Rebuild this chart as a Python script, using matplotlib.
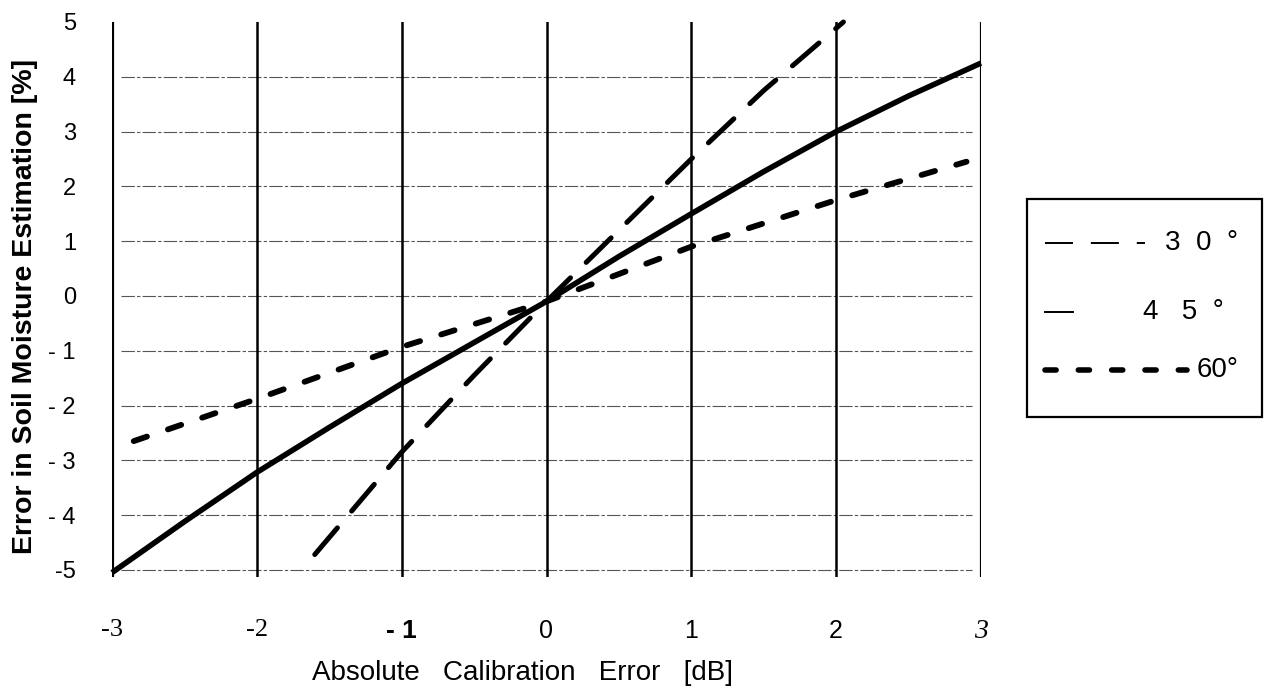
import matplotlib
matplotlib.use('Agg')
import matplotlib.pyplot as plt
from matplotlib.lines import Line2D
from matplotlib.patches import Rectangle

plt.rcParams['font.family'] = ['Liberation Sans', 'DejaVu Sans']

# Calibration error [dB] vs. soil moisture error [%], per incidence angle
x_30 = [-1.6, -1.0, -0.5, 0.0, 0.5, 1.0, 1.5, 2.05]
y_30 = [-4.72, -2.85, -1.45, -0.1, 1.2, 2.5, 3.75, 5.0]

x_45 = [-3.0, -2.5, -2.0, -1.5, -1.0, -0.5, 0.0, 0.5, 1.0, 1.5, 2.0, 2.5, 3.0]
y_45 = [-5.05, -4.12, -3.22, -2.4, -1.6, -0.85, -0.1, 0.72, 1.5, 2.27, 3.0, 3.65, 4.25]

x_60 = [-2.85, -2.0, -1.0, 0.0, 1.0, 2.0, 2.9]
y_60 = [-2.65, -1.88, -0.93, -0.1, 0.9, 1.75, 2.45]

x_ticks = [-3, -2, -1, 0, 1, 2, 3]
x_ticklabels = ['-3', '-2', '- 1', '0', '1', '2', '3']
y_ticks = [5, 4, 3, 2, 1, 0, -1, -2, -3, -4, -5]
y_ticklabels = ['5', '4', '3', '2', '1', '0', '- 1', '- 2', '- 3', '- 4', '-5']
labels = ['3  0  °', '4   5  °', '60°']

W, H = 1265, 693
fig = plt.figure(figsize=(W / 100, H / 100), dpi=100)
ax = fig.add_axes([112 / W, 1 - 577 / H, (981 - 112) / W, (577 - 22) / H])

ax.set_xlim(-3, 3)
ax.set_ylim(-5.13, 5.0)
for s in ax.spines.values():
    s.set_visible(False)

# horizontal broken grey grid lines
for yv in y_ticks[1:]:
    ax.axhline(yv, xmin=0.01, xmax=0.99, color='#555555', lw=0.8,
               ls=(0, (12, 2, 3, 2)), zorder=1)

# heavy vertical lines at every integer
for xv in x_ticks:
    lw = 2.3 if xv in (-3, 3) else 1.8
    ax.axvline(xv, color='black', lw=lw, zorder=2)

l30, = ax.plot(x_30, y_30, color='black', lw=3.6, ls=(0, (7.0, 4.4)),
               dash_capstyle='round', zorder=3, clip_on=False)
l45, = ax.plot(x_45, y_45, color='black', lw=4.0, solid_capstyle='butt',
               zorder=3, clip_on=False)
l60, = ax.plot(x_60, y_60, color='black', lw=4.2, ls=(0, (2.4, 3.8)),
               dash_capstyle='round', zorder=3, clip_on=False)

ax.set_xticks(x_ticks)
ax.set_xticklabels(x_ticklabels, family='Liberation Serif', fontsize=19)
xt = ax.get_xticklabels()
xt[2].set_family('Liberation Sans')
xt[2].set_weight('bold')
for t in xt[3:6]:
    t.set_family('Liberation Sans')
    t.set_fontsize(18)
xt[6].set_style('italic')
xt[6].set_fontsize(20)
ax.set_yticks(y_ticks)
ax.set_yticklabels(y_ticklabels, fontsize=17)
ax.tick_params(axis='x', length=0, pad=30)
ax.tick_params(axis='y', length=0, pad=26)

fig.text(523 / W, 1 - 673 / H, 'Absolute   Calibration   Error   [dB]',
         fontsize=20, ha='center', va='center')
fig.text(25 / W, 1 - 306 / H, 'Error in Soil Moisture Estimation [%]',
         fontsize=20.5, fontweight='bold', rotation=90, ha='center', va='center')

# legend, drawn by hand like the scanned original
fig.patches.append(Rectangle((1027 / W, 1 - 417 / H), (1262 - 1027) / W, (417 - 199) / H,
                             transform=fig.transFigure, fill=False,
                             edgecolor='black', lw=1.6))
rows_y = [243, 312, 370]
handle_ends = [1145, 1073, 1187]
handle_styles = [dict(lw=1.4, ls=(0, (14.4, 9.2))),
                 dict(lw=1.4, ls='-'),
                 dict(lw=4.0, ls=(0, (2.0, 4.0)), dash_capstyle='round')]
text_x = [1165, 1143, 1197]
for ry, he, st, tx, lab in zip(rows_y, handle_ends, handle_styles, text_x, labels):
    fy = 1 - ry / H
    fig.lines.append(Line2D([1045 / W, he / W], [fy, fy], transform=fig.transFigure,
                            color='black', **st))
    fig.text(tx / W, fy, lab, fontsize=20, ha='left', va='center')

fig.savefig('out.png', dpi=100)
